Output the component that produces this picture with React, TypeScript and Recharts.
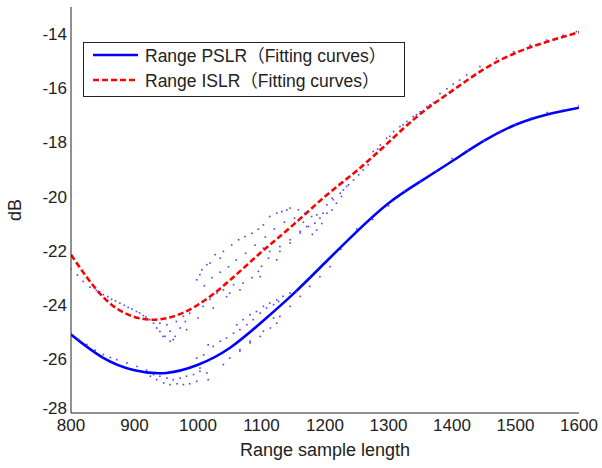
import React from "react";
import { ComposedChart, Line, Scatter, XAxis, YAxis } from "recharts";

const FONT = "'Liberation Sans', Arial, 'Noto Sans CJK SC', sans-serif";

const X_TICKS = [800, 900, 1000, 1100, 1200, 1300, 1400, 1500, 1600];
const Y_TICKS = [-28, -26, -24, -22, -20, -18, -16, -14];

// fitted curves, sampled every 50
const FIT_X = [800, 850, 900, 950, 1000, 1050, 1100, 1150, 1200, 1250, 1300, 1350, 1400, 1450, 1500, 1550, 1600];
const PSLR_FIT = [-25.1, -25.95, -26.42, -26.52, -26.22, -25.6, -24.65, -23.6, -22.45, -21.3, -20.25, -19.45, -18.7, -17.95, -17.35, -16.97, -16.72];
const ISLR_FIT = [-22.15, -23.7, -24.45, -24.5, -24.0, -23.1, -22.05, -21.05, -20.0, -19.05, -18.0, -16.95, -16.1, -15.3, -14.7, -14.28, -13.93];

// raw measurements (dots), ISLR group
const ISLR_RAW: [number, number][] = [
  [800, -22.68], [810, -22.9], [819, -23.14], [830, -23.35], [840, -23.47], [851, -23.63], [864, -23.8], [877, -23.94],
  [890, -24.1], [903, -24.25], [914, -24.4], [924, -24.55], [935, -24.86], [945, -25.17],
  [845, -23.52], [858, -23.7], [870, -23.86], [884, -24.02], [896, -24.16], [908, -24.3], [918, -24.45],
  [930, -24.68], [940, -24.99], [948, -25.17], [956, -25.35], [964, -25.17], [972, -24.86], [980, -24.62],
  [940, -24.68], [951, -24.74], [966, -24.62], [977, -24.43], [956, -24.98], [961, -25.29], [982, -24.92],
  [987, -24.31], [1000, -24.49], [1008, -24.06], [1019, -23.8], [1030, -23.57], [1040, -23.45], [1056, -23.26],
  [998, -23.08], [1003, -22.89], [1006, -22.71], [1014, -22.52], [1019, -22.46], [1027, -22.15], [1035, -22.28],
  [1040, -22.03], [1053, -21.79], [1064, -21.6], [1074, -21.48], [1085, -21.36], [1095, -21.21], [1103, -21.05],
  [1113, -20.74], [1124, -20.62], [1132, -20.56], [1140, -20.5], [1145, -20.43], [1158, -20.49], [1168, -20.62],
  [1179, -20.74], [1187, -20.68], [1197, -20.62], [1203, -20.31], [1213, -20.12], [1224, -19.88], [1234, -19.63],
  [1024, -24.12], [1045, -23.7], [1050, -23.57], [1066, -23.45], [1071, -23.2], [1085, -23.0], [1095, -22.77],
  [1098, -22.96], [1111, -22.28], [1124, -22.34], [1129, -22.03], [1145, -21.72], [1161, -21.29], [1174, -21.11],
  [1187, -21.24], [1100, -22.58], [1103, -21.91], [1113, -22.03], [1129, -21.85], [1145, -21.6], [1161, -21.35],
  [1171, -21.11], [1184, -20.99], [1192, -20.8], [1203, -20.62], [1211, -20.5], [1218, -20.25], [1226, -20.0],
  [1010, -23.3], [1022, -23.0], [1035, -22.8], [1048, -22.6], [1060, -22.35], [1075, -22.1], [1090, -21.8],
  [1106, -21.5], [1120, -21.2], [1136, -20.95], [1152, -20.8], [1166, -20.95], [1180, -21.4], [1195, -21.0],
  [1211, -20.06], [1229, -19.76], [1237, -19.57], [1245, -19.39], [1253, -19.2], [1260, -19.02], [1268, -18.83],
  [1276, -18.34], [1287, -18.1], [1297, -17.85], [1308, -17.6], [1318, -17.42], [1329, -17.23], [1339, -17.05],
  [1350, -16.87], [1360, -16.68], [1371, -16.53], [1381, -16.2], [1402, -15.85], [1423, -15.51], [1444, -15.2],
  [1470, -14.9], [1497, -14.65], [1523, -14.41], [1549, -14.22], [1575, -14.04], [1596, -13.91],
  [1283, -18.25], [1302, -17.78], [1323, -17.35], [1344, -16.98], [1365, -16.62], [1392, -16.02], [1412, -15.7],
];

// raw measurements (dots), PSLR group
const PSLR_RAW: [number, number][] = [
  [800, -25.05], [812, -25.28], [825, -25.47], [838, -25.68], [851, -25.84], [862, -25.95], [872, -26.03], [888, -26.15],
  [904, -26.28], [919, -26.42], [925, -26.64], [935, -26.77], [946, -26.89], [956, -26.95], [967, -26.92],
  [977, -26.95], [987, -26.92], [998, -26.83], [930, -26.58], [940, -26.64], [951, -26.71], [961, -26.77],
  [972, -26.71], [982, -26.64], [993, -26.58], [1003, -26.46], [998, -25.97], [1009, -25.85], [1016, -25.48],
  [1024, -25.54], [1035, -25.35], [1045, -25.23], [1056, -25.05], [1061, -24.74], [1066, -24.92], [1071, -24.55],
  [1077, -24.74], [1082, -24.37], [1087, -24.55], [1092, -24.25], [1098, -24.31], [1103, -24.06], [1108, -24.12],
  [1113, -23.94], [1119, -24.0], [1124, -23.82], [1127, -23.88], [1134, -23.69], [1145, -23.57], [1155, -23.51],
  [1003, -26.34], [1014, -26.52], [1016, -26.77], [1040, -26.21], [1050, -25.97], [1066, -25.66], [1066, -25.72],
  [1082, -25.35], [1082, -25.41], [1098, -25.17], [1103, -24.98], [1114, -24.86], [1119, -24.49], [1124, -24.68],
  [1129, -24.43], [1145, -24.06], [1161, -23.69], [1176, -23.32], [1192, -22.96], [1208, -22.59],
  [1225, -21.95], [1250, -21.2], [1275, -20.85], [1300, -20.35], [1325, -19.8], [1350, -19.45], [1375, -19.05],
  [1400, -18.6], [1425, -18.3], [1450, -17.95], [1475, -17.6], [1500, -17.35], [1525, -17.1], [1550, -16.9],
  [1575, -16.8], [1600, -16.65],
];

const pslrFit = FIT_X.map((x, i) => ({ x, y: PSLR_FIT[i] }));
const islrFit = FIT_X.map((x, i) => ({ x, y: ISLR_FIT[i] }));
const islrRaw = ISLR_RAW.map(([x, y]) => ({ x, y }));
const pslrRaw = PSLR_RAW.map(([x, y]) => ({ x, y }));

const tickStyle = { fill: "#222", fontSize: 17, fontFamily: FONT };
const tickLineStyle = { stroke: "#222", strokeWidth: 1 };
const blank = () => "";

function Dot(props: any) {
  const { cx, cy } = props;
  if (cx == null || cy == null) return null;
  return <rect x={cx - 0.8} y={cy - 0.8} width={1.6} height={1.6} fill="#4444ff" />;
}

// y tick label; the bottom one sits a little higher, as matlab draws it
function YTick(props: any) {
  const { x, y, payload } = props;
  const lift = payload.value === Y_TICKS[0] ? -5 : 0;
  return (
    <text x={x} y={y + lift} dy="0.355em" textAnchor="end" fontSize={17} fontFamily={FONT} fill="#222">
      {payload.value}
    </text>
  );
}

function LegendBox() {
  return (
    <svg width={323} height={56} style={{ position: "absolute", left: 83, top: 42 }}>
      <rect x={0.5} y={0.5} width={321} height={54} fill="#fff" stroke="#222" strokeWidth={1} />
      <line x1={10} x2={55} y1={13} y2={13} stroke="#0000ff" strokeWidth={2.5} />
      <line x1={10} x2={55} y1={38} y2={38} stroke="#ff0000" strokeWidth={2.5} strokeDasharray="6 3" />
      <text x={62} y={20} fontSize={17.5} fontFamily={FONT} fill="#222">
        Range PSLR（Fitting curves）
      </text>
      <text x={62} y={45} fontSize={17.5} fontFamily={FONT} fill="#222">
        Range ISLR（Fitting curves）
      </text>
    </svg>
  );
}

// axis used only to draw inward tick marks on one side of the box
const markAxis = {
  type: "number" as const,
  allowDataOverflow: true,
  mirror: true,
  tickFormatter: blank,
  tickSize: 6,
  tickLine: tickLineStyle,
  axisLine: false,
};

export default function App() {
  return (
    <div style={{ position: "fixed", left: 0, top: 0, width: 602, height: 468, background: "#fff" }}>
      <ComposedChart width={602} height={468} margin={{ top: 7, right: 23, left: 0, bottom: 0 }}>
        <XAxis xAxisId="bt" orientation="bottom" domain={[800, 1600]} ticks={X_TICKS} height={0} {...markAxis} />
        <XAxis xAxisId="tt" orientation="top" domain={[800, 1600]} ticks={X_TICKS} height={0} {...markAxis} axisLine={{ stroke: "#222" }} />
        <YAxis yAxisId="lt" orientation="left" domain={[-28, -13]} ticks={Y_TICKS} width={0} {...markAxis} />
        <YAxis yAxisId="rt" orientation="right" domain={[-28, -13]} ticks={Y_TICKS} width={0} {...markAxis} axisLine={{ stroke: "#222" }} />
        <XAxis
          xAxisId={0}
          dataKey="x"
          type="number"
          domain={[800, 1600]}
          ticks={X_TICKS}
          allowDataOverflow
          height={55}
          tick={tickStyle}
          tickSize={0}
          tickLine={false}
          tickMargin={6}
          stroke="#222"
          label={{ value: "Range sample length", position: "insideBottom", offset: 12, fill: "#222", fontSize: 18, fontFamily: FONT }}
        />
        <YAxis
          yAxisId={0}
          dataKey="y"
          type="number"
          domain={[-28, -13]}
          ticks={Y_TICKS}
          allowDataOverflow
          width={71}
          tick={<YTick />}
          tickSize={0}
          tickLine={false}
          tickMargin={4}
          stroke="#222"
          label={{
            content: () => (
              <text x={21} y={210} transform="rotate(-90, 21, 210)" textAnchor="middle" fontSize={18} fontFamily={FONT} fill="#222">
                dB
              </text>
            ),
          }}
        />
        <Scatter data={islrRaw} dataKey="y" shape={<Dot />} isAnimationActive={false} />
        <Scatter data={pslrRaw} dataKey="y" shape={<Dot />} isAnimationActive={false} />
        <Line data={pslrFit} dataKey="y" type="natural" stroke="#0000ff" strokeWidth={2.6} dot={false} isAnimationActive={false} />
        <Line data={islrFit} dataKey="y" type="natural" stroke="#ff0000" strokeWidth={2.6} strokeDasharray="6 3" dot={false} isAnimationActive={false} />
      </ComposedChart>
      <LegendBox />
    </div>
  );
}
